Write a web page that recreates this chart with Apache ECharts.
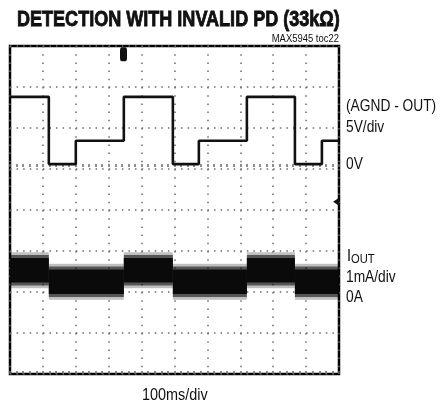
<!DOCTYPE html>
<html>
<head>
<meta charset="utf-8">
<script src="https://cdn.jsdelivr.net/npm/echarts@6/dist/echarts.min.js"></script>
<style>html,body{margin:0;padding:0;background:#fff;}#c{width:440px;height:407px;}</style>
</head>
<body>
<div id="c"></div>
<script>
// ---- data read from the scope capture ----
// time in ms (100 ms/div, 10 divisions)
var vTimes   = [0, 118, 200, 346, 495, 574, 720, 866, 948, 1000];
// (AGND - OUT) in volts, 5 V/div, step values held from each time
var vValues  = [8.2, 0, 2.85, 8.2, 0, 2.85, 8.2, 0, 2.85, 2.85];
// IOUT segments: start / end times (ms) and band centre (mA), 1 mA/div
var iStarts  = [0, 118, 346, 495, 720, 866];
var iEnds    = [118, 346, 495, 720, 866, 1000];
var iCenters = [0.68, 0.40, 0.68, 0.40, 0.68, 0.40];
// noise band thickness (mA peak-to-peak): dense core, fuzzy envelope
var noiseCore  = 0.60;
var noiseMid   = 0.74;
var noiseOuter = 0.88;
// scope screen: 8 vertical divisions; 0 V and 0 A reference positions (div from bottom)
var zeroVdiv = 5.12, voltsPerDiv = 5;
var zeroAdiv = 1.85, mAPerDiv = 1;
var trigTime = 345, trigV = 13.4;
var levelTime = 991, levelV = -4.6;

var voltData = vTimes.map(function (t, i) { return [t, vValues[i]]; });
var curData = iStarts.map(function (t, i) { return [t, iEnds[i], iCenters[i]]; });

var font = "'Liberation Sans', Arial, sans-serif";
var dotColor = '#6a6a6a';

var chart = echarts.init(document.getElementById('c'), null, {renderer: 'canvas'});

function bandItem(params, api) {
  var t0 = api.value(0), t1 = api.value(1), c = api.value(2);
  var layers = [
    {h: noiseOuter, fill: 'rgba(0,0,0,0.25)'},
    {h: noiseMid, fill: 'rgba(0,0,0,0.55)'},
    {h: noiseCore, fill: '#0a0a0a'}
  ];
  var children = layers.map(function (L) {
    var p0 = api.coord([t0, c + L.h / 2]);
    var p1 = api.coord([t1, c - L.h / 2]);
    var rect = echarts.graphic.clipRectByRect({
      x: p0[0], y: p0[1], width: p1[0] - p0[0], height: p1[1] - p0[1]
    }, {
      x: params.coordSys.x, y: params.coordSys.y,
      width: params.coordSys.width, height: params.coordSys.height
    });
    return {type: 'rect', shape: rect || {x:0,y:0,width:0,height:0}, style: {fill: L.fill}};
  });
  return {type: 'group', children: children};
}

function txt(s, x, y, size, sx, opts) {
  opts = opts || {};
  return {type: 'text', x: x, y: y, scaleX: sx, z: 10,
    style: {text: s, font: (opts.weight || 'normal') + ' ' + size + 'px ' + font,
      fill: '#111', textAlign: opts.align || 'left', textVerticalAlign: 'middle',
      stroke: opts.stroke ? '#000' : null, lineWidth: opts.stroke || 0}};
}

var option = {
  animation: false,
  backgroundColor: '#fff',
  grid: {left: 10, top: 46, width: 329, height: 328, show: true,
         borderColor: '#000', borderWidth: 2.5, backgroundColor: 'transparent'},
  xAxis: [
    {type: 'value', min: 0, max: 1000, interval: 100, position: 'bottom',
     axisLine: {show: false}, axisLabel: {show: false},
     axisTick: {show: true, inside: true, length: 3, lineStyle: {color: dotColor, width: 1.5}},
     minorTick: {show: true, splitNumber: 5, length: 3, lineStyle: {color: dotColor, width: 1.5}},
     splitLine: {show: true, lineStyle: {color: dotColor, width: 1.5, type: [1.5, 6.7], dashOffset: 0}}},
    {type: 'value', min: 0, max: 1000, interval: 100, position: 'top',
     axisLine: {show: false}, axisLabel: {show: false},
     axisTick: {show: true, inside: true, length: 3, lineStyle: {color: dotColor, width: 1.5}},
     minorTick: {show: true, splitNumber: 5, length: 3, lineStyle: {color: dotColor, width: 1.5}},
     splitLine: {show: false}}
  ],
  yAxis: [
    {type: 'value', min: 0, max: 8, interval: 1, position: 'left',
     axisLine: {show: false}, axisLabel: {show: false}, axisTick: {show: false},
     splitLine: {show: true, lineStyle: {color: dotColor, width: 1.5, type: [1.5, 5.08]}}},
    {type: 'value', show: false, position: 'left',
     min: -zeroVdiv * voltsPerDiv, max: (8 - zeroVdiv) * voltsPerDiv},
    {type: 'value', show: false, position: 'right',
     min: -zeroAdiv * mAPerDiv, max: (8 - zeroAdiv) * mAPerDiv}
  ],
  series: [
    {type: 'custom', name: 'IOUT', xAxisIndex: 0, yAxisIndex: 2,
     renderItem: bandItem, data: curData, clip: true, z: 3},
    {type: 'line', name: 'AGND-OUT', xAxisIndex: 0, yAxisIndex: 1,
     step: 'end', data: voltData, symbol: 'none', clip: true, z: 4,
     lineStyle: {color: '#111', width: 2.6},
     markPoint: {
       label: {show: false},
       data: [
         {coord: [trigTime, trigV], symbol: 'roundRect', symbolSize: [7, 14],
          itemStyle: {color: '#111'}},
         {coord: [levelTime, levelV], symbol: 'triangle', symbolRotate: 90, symbolSize: [8, 6],
          itemStyle: {color: '#111'}}
       ]
     }}
  ],
  graphic: [
    txt('DETECTION WITH INVALID PD (33kΩ)', 17, 20, 22, 0.82, {weight: 'bold', stroke: 0.8}),
    txt('MAX5945 toc22', 339, 39, 11, 0.86, {align: 'right'}),
    txt('(AGND - OUT)', 346, 107, 16, 0.86),
    txt('5V/div', 346, 128, 16, 0.86),
    txt('0V', 346, 165, 16, 0.86),
    txt('I', 347, 256, 17, 0.86),
    txt('OUT', 351, 259, 13, 0.86),
    txt('1mA/div', 346, 278, 16, 0.86),
    txt('0A', 346, 298, 16, 0.86),
    txt('100ms/div', 142, 396, 16, 0.9)
  ]
};
chart.setOption(option);
</script>
</body>
</html>
